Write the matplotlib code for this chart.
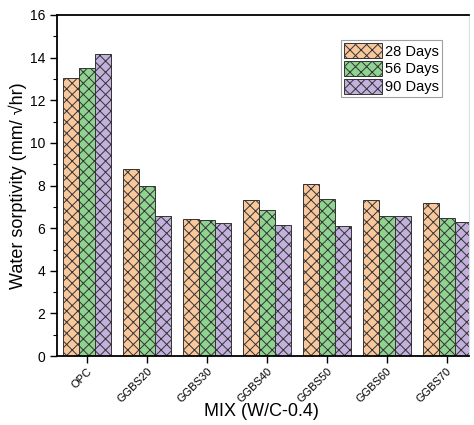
import numpy as np
import matplotlib
matplotlib.use("Agg")
import matplotlib.pyplot as plt
from matplotlib.ticker import MultipleLocator

plt.rcParams["font.family"] = ["Liberation Sans", "DejaVu Sans"]
plt.rcParams["hatch.linewidth"] = 0.7

# data
mixes = ["OPC", "GGBS20", "GGBS30", "GGBS40", "GGBS50", "GGBS60", "GGBS70"]
days_28 = [13.05, 8.78, 6.45, 7.33, 8.08, 7.31, 7.19]
days_56 = [13.52, 7.97, 6.38, 6.86, 7.39, 6.56, 6.48]
days_90 = [14.15, 6.58, 6.22, 6.16, 6.08, 6.55, 6.27]
series = [("28 Days", days_28, "#F9C79C"),
          ("56 Days", days_56, "#8ED38F"),
          ("90 Days", days_90, "#C2B0DD")]

fig = plt.figure(figsize=(4.74, 4.25), dpi=100)
ax = fig.add_axes([0.120, 0.162, 0.869, 0.803])

x = np.arange(len(mixes))
w = 0.8 / 3
for i, (label, vals, col) in enumerate(series):
    ax.bar(x + (i - 1) * w, vals, width=w, color=col, edgecolor="#333333",
           linewidth=0.7, hatch="xxx", label=label, zorder=2)

ax.set_xlim(-0.5, 6.37)
ax.set_ylim(0, 16)
ax.yaxis.set_major_locator(MultipleLocator(2))
ax.yaxis.set_minor_locator(MultipleLocator(1))
ax.set_xticks(x)
ax.set_xticklabels(mixes, rotation=45, ha="right", rotation_mode="anchor", fontsize=8)
ax.tick_params(axis="y", labelsize=10, direction="out", length=5, width=1)
ax.tick_params(axis="y", which="minor", direction="out", length=3, width=0.8)
ax.tick_params(axis="x", direction="out", length=5, width=1, pad=2)

for side in ["left", "bottom", "top"]:
    ax.spines[side].set_linewidth(1.3)
ax.spines["right"].set_color("#dddddd")
ax.spines["right"].set_linewidth(0.8)

ax.set_ylabel("Water sorptivity (mm/ \u221ahr)", fontsize=13)
ax.yaxis.set_label_coords(-0.073, 0.5)
ax.set_xlabel("MIX (W/C-0.4)", fontsize=13)
ax.xaxis.set_label_coords(0.496, -0.138)

leg = ax.legend(loc="upper left", bbox_to_anchor=(0.69, 0.925), fontsize=10.5,
                frameon=True, fancybox=False, handlelength=2.6, handleheight=1.2,
                handletextpad=0.2, borderpad=0.2, labelspacing=0.15,
                borderaxespad=0)
leg.get_frame().set_edgecolor("#888888")
leg.get_frame().set_linewidth(0.8)

fig.savefig("out.png", dpi=100)
